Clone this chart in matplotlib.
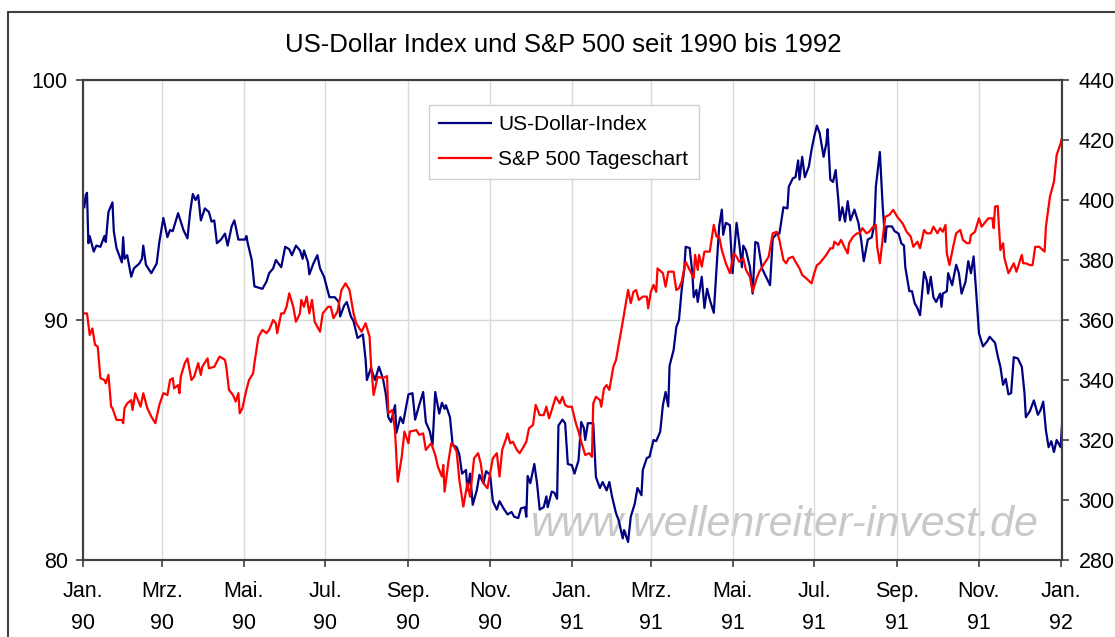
import matplotlib
matplotlib.use("Agg")
import matplotlib.pyplot as plt
import matplotlib.dates as mdates
from matplotlib.patches import Rectangle
from matplotlib.ticker import FuncFormatter
import pandas as pd

plt.rcParams['font.family'] = ['Liberation Sans', 'DejaVu Sans']

# US-Dollar-Index (linke Achse)
usd_dates = [
    "1990-01-02", "1990-01-03", "1990-01-04", "1990-01-05", "1990-01-06", "1990-01-09", "1990-01-11",
    "1990-01-14", "1990-01-17", "1990-01-18", "1990-01-20", "1990-01-23", "1990-01-24", "1990-01-26",
    "1990-01-30", "1990-01-31", "1990-02-01", "1990-02-03", "1990-02-06", "1990-02-08", "1990-02-12",
    "1990-02-14", "1990-02-15", "1990-02-17", "1990-02-21", "1990-02-25", "1990-02-27", "1990-03-02",
    "1990-03-05", "1990-03-07", "1990-03-09", "1990-03-13", "1990-03-17", "1990-03-20", "1990-03-22",
    "1990-03-24", "1990-03-26", "1990-03-28", "1990-03-30", "1990-04-02", "1990-04-05", "1990-04-07",
    "1990-04-09", "1990-04-11", "1990-04-14", "1990-04-17", "1990-04-19", "1990-04-22", "1990-04-24",
    "1990-04-25", "1990-04-27", "1990-05-02", "1990-05-03", "1990-05-04", "1990-05-07", "1990-05-09",
    "1990-05-15", "1990-05-18", "1990-05-20", "1990-05-23", "1990-05-25", "1990-05-29", "1990-06-01",
    "1990-06-04", "1990-06-06", "1990-06-09", "1990-06-12", "1990-06-14", "1990-06-15", "1990-06-18",
    "1990-06-19", "1990-06-22", "1990-06-25", "1990-06-27", "1990-06-30", "1990-07-04", "1990-07-08",
    "1990-07-11", "1990-07-12", "1990-07-15", "1990-07-17", "1990-07-20", "1990-07-22", "1990-07-25",
    "1990-07-29", "1990-07-31", "1990-08-01", "1990-08-04", "1990-08-07", "1990-08-10", "1990-08-13",
    "1990-08-15", "1990-08-17", "1990-08-19", "1990-08-22", "1990-08-23", "1990-08-26", "1990-08-28",
    "1990-09-01", "1990-09-04", "1990-09-06", "1990-09-09", "1990-09-12", "1990-09-14", "1990-09-17",
    "1990-09-19", "1990-09-21", "1990-09-24", "1990-09-26", "1990-09-28", "1990-09-29", "1990-10-02",
    "1990-10-04", "1990-10-07", "1990-10-09", "1990-10-11", "1990-10-14", "1990-10-15", "1990-10-17",
    "1990-10-19", "1990-10-22", "1990-10-24", "1990-10-27", "1990-10-29", "1990-11-01", "1990-11-03",
    "1990-11-06", "1990-11-08", "1990-11-11", "1990-11-14", "1990-11-17", "1990-11-19", "1990-11-22",
    "1990-11-24", "1990-11-27", "1990-11-28", "1990-11-29", "1990-12-01", "1990-12-04", "1990-12-06",
    "1990-12-08", "1990-12-11", "1990-12-13", "1990-12-14", "1990-12-17", "1990-12-19", "1990-12-21",
    "1990-12-22", "1990-12-25", "1990-12-27", "1990-12-29", "1991-01-01", "1991-01-03", "1991-01-06",
    "1991-01-08", "1991-01-10", "1991-01-11", "1991-01-13", "1991-01-17", "1991-01-19", "1991-01-22",
    "1991-01-24", "1991-01-27", "1991-01-29", "1991-01-31", "1991-02-03", "1991-02-05", "1991-02-08",
    "1991-02-09", "1991-02-12", "1991-02-14", "1991-02-17", "1991-02-19", "1991-02-22", "1991-02-23",
    "1991-02-26", "1991-02-28", "1991-03-03", "1991-03-05", "1991-03-08", "1991-03-10", "1991-03-12",
    "1991-03-14", "1991-03-15", "1991-03-18", "1991-03-20", "1991-03-22", "1991-03-24", "1991-03-26",
    "1991-03-27", "1991-03-30", "1991-04-01", "1991-04-02", "1991-04-04", "1991-04-05", "1991-04-08",
    "1991-04-10", "1991-04-12", "1991-04-14", "1991-04-17", "1991-04-19", "1991-04-21", "1991-04-23",
    "1991-04-24", "1991-04-26", "1991-04-29", "1991-05-01", "1991-05-04", "1991-05-06", "1991-05-08",
    "1991-05-09", "1991-05-11", "1991-05-14", "1991-05-16", "1991-05-18", "1991-05-20", "1991-05-23",
    "1991-05-26", "1991-05-29", "1991-05-31", "1991-06-03", "1991-06-05", "1991-06-08", "1991-06-11",
    "1991-06-12", "1991-06-15", "1991-06-17", "1991-06-19", "1991-06-20", "1991-06-22", "1991-06-24",
    "1991-06-27", "1991-06-29", "1991-07-01", "1991-07-03", "1991-07-05", "1991-07-08", "1991-07-10",
    "1991-07-11", "1991-07-13", "1991-07-15", "1991-07-17", "1991-07-19", "1991-07-20", "1991-07-22",
    "1991-07-24", "1991-07-26", "1991-07-28", "1991-07-31", "1991-08-03", "1991-08-05", "1991-08-07",
    "1991-08-10", "1991-08-13", "1991-08-15", "1991-08-16", "1991-08-19", "1991-08-21", "1991-08-23",
    "1991-08-24", "1991-08-28", "1991-08-30", "1991-09-02", "1991-09-04", "1991-09-06", "1991-09-07",
    "1991-09-10", "1991-09-12", "1991-09-14", "1991-09-16", "1991-09-18", "1991-09-21", "1991-09-23",
    "1991-09-24", "1991-09-26", "1991-09-28", "1991-09-30", "1991-10-03", "1991-10-04", "1991-10-05",
    "1991-10-08", "1991-10-09", "1991-10-12", "1991-10-13", "1991-10-15", "1991-10-17", "1991-10-19",
    "1991-10-22", "1991-10-24", "1991-10-26", "1991-10-28", "1991-10-30", "1991-11-01", "1991-11-04",
    "1991-11-07", "1991-11-09", "1991-11-13", "1991-11-15", "1991-11-17", "1991-11-19", "1991-11-21",
    "1991-11-23", "1991-11-25", "1991-11-27", "1991-11-30", "1991-12-03", "1991-12-05", "1991-12-06",
    "1991-12-09", "1991-12-12", "1991-12-15", "1991-12-17", "1991-12-19", "1991-12-21", "1991-12-23",
    "1991-12-25", "1991-12-27", "1991-12-29", "1992-01-01", "1992-01-02",
]
usd_values = [
    94.7, 95.2, 95.3, 93.2, 93.5, 92.85, 93.1,
    93.05, 93.5, 93.25, 94.5, 94.9, 93.7, 93.0,
    92.4, 93.45, 92.55, 92.7, 91.8, 92.15, 92.35,
    92.55, 93.1, 92.3, 91.95, 92.35, 93.25, 94.25,
    93.45, 93.75, 93.7, 94.45, 93.75, 93.4, 94.5,
    95.25, 95.0, 95.2, 94.15, 94.65, 94.5, 94.1,
    94.15, 93.2, 93.35, 93.6, 93.1, 93.9, 94.15,
    93.9, 93.35, 93.35, 93.5, 93.2, 92.5, 91.4,
    91.3, 91.6, 91.95, 92.15, 92.5, 92.2, 93.05,
    92.95, 92.7, 93.1, 92.9, 92.55, 92.9, 92.4,
    91.9, 92.35, 92.7, 92.15, 91.8, 90.95, 90.95,
    90.75, 90.15, 90.6, 90.75, 90.15, 89.95, 89.25,
    89.4, 88.35, 87.5, 88.0, 87.5, 88.05, 87.55,
    86.95, 85.95, 85.75, 86.45, 85.3, 85.95, 85.7,
    86.9, 86.95, 85.85, 86.45, 87.0, 85.75, 85.35,
    84.8, 87.0, 86.1, 86.55, 86.3, 86.45, 85.95,
    84.8, 84.7, 84.4, 83.6, 83.75, 82.9, 83.6,
    82.3, 82.9, 83.55, 83.2, 83.7, 83.55, 82.45,
    82.1, 82.45, 82.15, 81.9, 82.0, 81.8, 81.75,
    82.15, 82.2, 81.8, 83.5, 83.2, 84.0, 83.2,
    82.1, 82.2, 82.65, 82.2, 82.85, 82.8, 82.55,
    85.6, 85.85, 85.7, 84.0, 83.95, 83.6, 84.15,
    85.75, 85.5, 85.0, 85.7, 85.7, 83.45, 83.0,
    83.25, 82.9, 83.25, 82.65, 81.95, 81.65, 80.9,
    81.25, 80.75, 81.8, 82.35, 83.0, 82.7, 83.75,
    84.25, 84.3, 85.0, 84.95, 85.35, 86.45, 87.0,
    86.4, 88.1, 88.75, 89.7, 90.0, 91.25, 92.15,
    93.05, 93.0, 91.95, 90.95, 91.25, 90.75, 91.8,
    90.5, 91.3, 90.85, 90.3, 92.1, 93.9, 94.6,
    93.55, 94.05, 93.95, 91.95, 94.05, 93.2, 92.2,
    93.1, 92.9, 92.2, 91.1, 93.25, 93.2, 92.15,
    91.8, 91.45, 93.4, 93.6, 93.6, 94.7, 94.65,
    95.55, 95.9, 95.95, 96.65, 95.85, 96.8, 95.95,
    96.4, 97.1, 97.65, 98.1, 97.8, 96.8, 97.35,
    97.95, 95.85, 95.75, 96.25, 95.0, 94.15, 94.7,
    94.1, 94.95, 94.15, 94.6, 94.05, 93.35, 92.45,
    93.35, 93.45, 94.05, 95.55, 97.0, 94.85, 93.25,
    93.9, 93.9, 93.7, 93.6, 93.2, 93.1, 92.2,
    91.2, 91.2, 90.7, 90.5, 90.2, 92.0, 91.65,
    91.1, 91.8, 90.95, 90.75, 91.1, 90.55, 91.1,
    91.2, 91.95, 91.45, 91.75, 92.3, 91.95, 91.1,
    91.6, 92.45, 91.95, 92.65, 91.1, 89.45, 88.9,
    89.1, 89.3, 89.05, 88.5, 88.05, 87.3, 87.55,
    86.9, 86.95, 88.45, 88.4, 88.05, 86.95, 85.95,
    86.2, 86.65, 86.05, 86.25, 86.6, 85.4, 84.7,
    84.95, 84.5, 85.0, 84.7, 85.6,
]

# S&P 500 Tageschart (rechte Achse)
spx_dates = [
    "1990-01-02", "1990-01-04", "1990-01-06", "1990-01-08", "1990-01-10", "1990-01-12", "1990-01-14",
    "1990-01-17", "1990-01-18", "1990-01-20", "1990-01-22", "1990-01-23", "1990-01-26", "1990-01-30",
    "1990-01-31", "1990-02-01", "1990-02-03", "1990-02-06", "1990-02-07", "1990-02-09", "1990-02-11",
    "1990-02-13", "1990-02-15", "1990-02-18", "1990-02-21", "1990-02-24", "1990-02-27", "1990-03-02",
    "1990-03-05", "1990-03-07", "1990-03-09", "1990-03-10", "1990-03-13", "1990-03-14", "1990-03-15",
    "1990-03-18", "1990-03-20", "1990-03-23", "1990-03-25", "1990-03-28", "1990-03-30", "1990-03-31",
    "1990-04-04", "1990-04-05", "1990-04-09", "1990-04-13", "1990-04-17", "1990-04-18", "1990-04-20",
    "1990-04-23", "1990-04-25", "1990-04-27", "1990-04-28", "1990-04-30", "1990-05-03", "1990-05-05",
    "1990-05-08", "1990-05-09", "1990-05-12", "1990-05-15", "1990-05-18", "1990-05-20", "1990-05-23",
    "1990-05-25", "1990-05-26", "1990-05-29", "1990-05-31", "1990-06-02", "1990-06-04", "1990-06-07",
    "1990-06-09", "1990-06-12", "1990-06-13", "1990-06-15", "1990-06-17", "1990-06-19", "1990-06-21",
    "1990-06-23", "1990-06-27", "1990-06-29", "1990-07-03", "1990-07-05", "1990-07-07", "1990-07-10",
    "1990-07-13", "1990-07-16", "1990-07-19", "1990-07-22", "1990-07-24", "1990-07-28", "1990-07-31",
    "1990-08-03", "1990-08-04", "1990-08-06", "1990-08-09", "1990-08-13", "1990-08-16", "1990-08-17",
    "1990-08-20", "1990-08-22", "1990-08-24", "1990-08-27", "1990-08-29", "1990-09-01", "1990-09-02",
    "1990-09-07", "1990-09-09", "1990-09-12", "1990-09-14", "1990-09-18", "1990-09-21", "1990-09-23",
    "1990-09-26", "1990-09-27", "1990-09-28", "1990-10-01", "1990-10-03", "1990-10-05", "1990-10-07",
    "1990-10-09", "1990-10-12", "1990-10-15", "1990-10-17", "1990-10-20", "1990-10-23", "1990-10-25",
    "1990-10-27", "1990-10-30", "1990-11-01", "1990-11-03", "1990-11-06", "1990-11-08", "1990-11-10",
    "1990-11-13", "1990-11-14", "1990-11-16", "1990-11-18", "1990-11-21", "1990-11-23", "1990-11-26",
    "1990-11-28", "1990-11-30", "1990-12-03", "1990-12-05", "1990-12-08", "1990-12-11", "1990-12-13",
    "1990-12-15", "1990-12-17", "1990-12-20", "1990-12-23", "1990-12-25", "1990-12-27", "1990-12-29",
    "1991-01-01", "1991-01-04", "1991-01-06", "1991-01-08", "1991-01-11", "1991-01-14", "1991-01-16",
    "1991-01-17", "1991-01-19", "1991-01-22", "1991-01-23", "1991-01-25", "1991-01-27", "1991-01-29",
    "1991-02-01", "1991-02-03", "1991-02-05", "1991-02-08", "1991-02-11", "1991-02-12", "1991-02-14",
    "1991-02-16", "1991-02-18", "1991-02-20", "1991-02-23", "1991-02-26", "1991-02-27", "1991-03-01",
    "1991-03-03", "1991-03-05", "1991-03-06", "1991-03-10", "1991-03-12", "1991-03-14", "1991-03-18",
    "1991-03-20", "1991-03-22", "1991-03-24", "1991-03-27", "1991-03-30", "1991-04-02", "1991-04-03",
    "1991-04-05", "1991-04-06", "1991-04-08", "1991-04-10", "1991-04-14", "1991-04-17", "1991-04-19",
    "1991-04-21", "1991-04-23", "1991-04-26", "1991-04-29", "1991-05-02", "1991-05-04", "1991-05-06",
    "1991-05-09", "1991-05-11", "1991-05-14", "1991-05-16", "1991-05-19", "1991-05-21", "1991-05-24",
    "1991-05-28", "1991-05-31", "1991-06-03", "1991-06-05", "1991-06-08", "1991-06-10", "1991-06-12",
    "1991-06-15", "1991-06-17", "1991-06-20", "1991-06-22", "1991-06-25", "1991-06-29", "1991-07-01",
    "1991-07-03", "1991-07-05", "1991-07-08", "1991-07-10", "1991-07-13", "1991-07-15", "1991-07-16",
    "1991-07-19", "1991-07-21", "1991-07-24", "1991-07-26", "1991-07-27", "1991-07-30", "1991-08-02",
    "1991-08-04", "1991-08-06", "1991-08-09", "1991-08-11", "1991-08-14", "1991-08-16", "1991-08-17",
    "1991-08-19", "1991-08-21", "1991-08-23", "1991-08-26", "1991-08-29", "1991-09-01", "1991-09-05",
    "1991-09-08", "1991-09-11", "1991-09-13", "1991-09-16", "1991-09-18", "1991-09-21", "1991-09-23",
    "1991-09-26", "1991-09-28", "1991-10-01", "1991-10-03", "1991-10-05", "1991-10-07", "1991-10-08",
    "1991-10-10", "1991-10-13", "1991-10-15", "1991-10-18", "1991-10-20", "1991-10-23", "1991-10-25",
    "1991-10-26", "1991-10-29", "1991-11-01", "1991-11-03", "1991-11-06", "1991-11-08", "1991-11-11",
    "1991-11-12", "1991-11-13", "1991-11-15", "1991-11-17", "1991-11-19", "1991-11-20", "1991-11-23",
    "1991-11-25", "1991-11-27", "1991-11-29", "1991-12-03", "1991-12-04", "1991-12-06", "1991-12-09",
    "1991-12-11", "1991-12-13", "1991-12-16", "1991-12-20", "1991-12-21", "1991-12-24", "1991-12-27",
    "1991-12-29", "1992-01-01", "1992-01-02",
]
spx_values = [
    362.2, 362.2, 355.0, 357.2, 351.7, 351.1, 340.6,
    340.0, 338.9, 341.7, 331.1, 330.6, 326.7, 326.7,
    325.6, 330.6, 332.2, 333.3, 330.0, 335.6, 333.3,
    331.1, 335.6, 330.6, 327.8, 325.6, 331.7, 335.6,
    335.0, 340.0, 340.6, 337.2, 338.3, 335.6, 341.1,
    345.6, 347.2, 340.0, 341.1, 345.6, 341.7, 344.4,
    347.2, 343.9, 344.4, 347.8, 346.7, 344.4, 336.7,
    335.0, 332.8, 335.6, 328.9, 330.6, 336.7, 340.0,
    342.2, 345.6, 354.4, 356.7, 355.6, 356.7, 360.0,
    358.9, 355.6, 362.2, 362.2, 364.4, 368.9, 364.4,
    359.4, 362.2, 366.7, 364.4, 367.8, 362.2, 366.7,
    359.4, 356.1, 362.2, 364.4, 364.4, 360.6, 362.8,
    370.0, 372.2, 370.0, 362.2, 358.9, 356.1, 358.9,
    354.4, 345.6, 335.0, 341.1, 340.6, 341.3, 328.9,
    330.0, 322.8, 306.1, 314.4, 322.8, 318.9, 322.8,
    323.3, 321.7, 322.2, 316.7, 318.9, 315.0, 311.1,
    307.8, 311.7, 302.8, 313.3, 318.9, 317.8, 316.1,
    306.7, 297.8, 305.6, 301.1, 313.9, 315.6, 312.2,
    305.6, 303.9, 308.9, 313.9, 315.6, 307.8, 316.7,
    320.6, 322.2, 318.9, 319.4, 316.7, 315.6, 317.8,
    319.4, 323.9, 325.0, 331.7, 328.3, 328.3, 331.1,
    327.2, 330.0, 334.4, 332.2, 334.4, 331.7, 331.1,
    331.1, 325.6, 322.8, 319.4, 315.0, 315.6, 314.4,
    332.2, 334.4, 333.3, 331.1, 337.2, 338.3, 336.7,
    344.4, 346.7, 351.7, 359.4, 367.2, 370.0, 365.6,
    369.4, 370.0, 366.7, 367.8, 367.8, 363.9, 369.4,
    371.7, 369.4, 377.2, 375.6, 371.1, 376.1, 376.1,
    370.0, 370.6, 372.8, 379.4, 376.7, 373.9, 381.7,
    376.7, 381.7, 377.8, 382.8, 382.8, 391.7, 387.8,
    387.8, 383.3, 378.9, 375.6, 382.2, 381.1, 379.4,
    380.6, 376.7, 374.4, 369.4, 373.9, 376.1, 378.3,
    381.1, 388.9, 389.4, 386.7, 380.0, 378.9, 380.6,
    381.1, 379.4, 377.2, 375.0, 373.9, 372.2, 375.6,
    378.3, 378.9, 380.6, 381.7, 383.9, 383.9, 386.1,
    385.0, 386.7, 383.9, 382.2, 385.6, 387.8, 388.9,
    388.9, 390.6, 388.9, 389.4, 391.1, 391.7, 384.4,
    378.9, 386.7, 394.4, 395.0, 396.7, 394.4, 392.2,
    389.4, 387.8, 384.4, 386.1, 383.9, 390.0, 388.9,
    388.9, 391.1, 388.9, 390.6, 389.4, 391.7, 382.2,
    378.3, 385.0, 388.9, 390.0, 386.7, 385.6, 385.6,
    388.3, 389.4, 393.9, 391.1, 392.8, 393.9, 393.9,
    390.6, 397.8, 398.0, 383.3, 385.6, 380.6, 375.6,
    377.2, 378.9, 376.1, 381.7, 378.9, 378.9, 378.3,
    378.3, 384.4, 384.4, 382.8, 391.1, 401.1, 406.1,
    415.0, 418.9, 420.7,
]

month_names = {1: "Jan.", 3: "Mrz.", 5: "Mai.", 7: "Jul.", 9: "Sep.", 11: "Nov."}

W, H = 1115, 637
fig = plt.figure(figsize=(W / 100, H / 100), dpi=100)

# Rahmen um das ganze Diagramm (rechts und unten abgeschnitten)
fig.patches.append(Rectangle((8 / W, -0.1), 1.2, 1.1 - 12 / H, transform=fig.transFigure,
                             fill=False, edgecolor="#404040", lw=1.5))

ax = fig.add_axes([83 / W, 1 - 560 / H, (1062 - 83) / W, (560 - 80) / H])
l1, = ax.plot(pd.to_datetime(usd_dates), usd_values, color="#000080", lw=1.6, label="US-Dollar-Index")
ax2 = ax.twinx()
l2, = ax2.plot(pd.to_datetime(spx_dates), spx_values, color="#ff0000", lw=1.6, label="S&P 500 Tageschart")

ax.set_xlim(pd.Timestamp("1990-01-01"), pd.Timestamp("1992-01-02"))
ax.set_ylim(80, 100)
ax.set_yticks([80, 90, 100])
ax2.set_ylim(280, 440)
ax2.set_yticks(range(280, 441, 20))

ax.xaxis.set_major_locator(mdates.MonthLocator(bymonth=[1, 3, 5, 7, 9, 11]))


def fmt_month(x, pos):
    d = mdates.num2date(x)
    return "%s\n%s" % (month_names[d.month], d.strftime("%y"))


ax.xaxis.set_major_formatter(FuncFormatter(fmt_month))

ax.grid(True, color="#d9d9d9", lw=1.0)
ax.set_axisbelow(True)

for a in (ax, ax2):
    for s in a.spines.values():
        s.set_color("#404040")
        s.set_linewidth(1.5)
    a.tick_params(direction="out", length=5, width=1.2, color="#404040", labelsize=15.5)
ax.tick_params(axis="x", pad=10)
ax.tick_params(axis="y", pad=6)
ax2.tick_params(axis="y", pad=7)
for lab in ax.get_xticklabels():
    lab.set_linespacing(1.7)

ax.text(0.717, 0.072, "www.wellenreiter-invest.de", transform=ax.transAxes, ha="center", va="center",
        fontsize=31, style="italic", color="#c8c8c8", zorder=0.5)

leg = ax2.legend(handles=[l1, l2], loc="upper left", bbox_to_anchor=(0.353, 0.948), fontsize=15,
                 frameon=True, fancybox=False, edgecolor="#d0d0d0", framealpha=1,
                 handlelength=2.5, borderpad=0.5, labelspacing=0.75, handletextpad=0.35,
                 borderaxespad=0.0)
leg.get_frame().set_linewidth(1.0)

fig.text(0.505, 1 - 45 / H, "US-Dollar Index und S&P 500 seit 1990 bis 1992", ha="center", va="center",
         fontsize=18.5)

fig.savefig("out.png", dpi=100)
